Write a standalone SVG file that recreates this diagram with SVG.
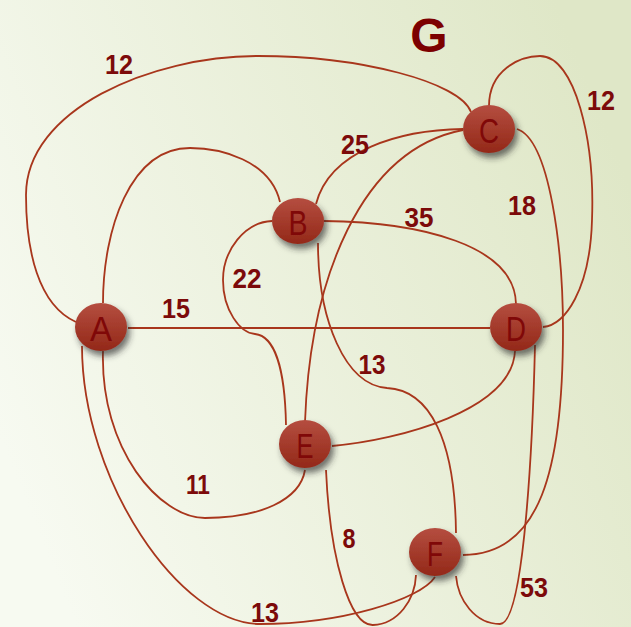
<svg xmlns="http://www.w3.org/2000/svg" width="631" height="627" viewBox="0 0 631 627">
<defs>
<linearGradient id="bg" x1="0" y1="0.7" x2="1" y2="0.3">
<stop offset="0" stop-color="#f7faf1"/>
<stop offset="1" stop-color="#dfe7c7"/>
</linearGradient>
<linearGradient id="nodeFill" x1="0" y1="0" x2="0" y2="1">
<stop offset="0" stop-color="#b54e40"/>
<stop offset="1" stop-color="#932818"/>
</linearGradient>
<filter id="shadow" x="-40%" y="-40%" width="190%" height="190%">
<feDropShadow dx="3" dy="5" stdDeviation="3" flood-color="#2a2a2a" flood-opacity="0.65"/>
</filter>
<style>
.edge{fill:none;stroke:#a8361c;stroke-width:1.8}
.node ellipse{fill:url(#nodeFill);filter:url(#shadow)}
.node text{font-family:"Liberation Sans",Arial,sans-serif;font-size:35px;fill:#800808;text-anchor:middle}
.lbl{font-family:"Liberation Sans",Arial,sans-serif;font-size:28px;font-weight:bold;fill:#7c0a0a;text-anchor:middle}
.title{font-family:"Liberation Sans",Arial,sans-serif;font-size:48px;font-weight:bold;fill:#7c0000;text-anchor:middle}
</style>
</defs>
<rect width="631" height="627" fill="url(#bg)"/>
<g id="edges">
<path class="edge" d="M76,322 C38,305 26,250 26,195 C26,110 150,56 258,56 C360,56 460,82 471,112"/>
<path class="edge" d="M489,106 C489,70 520,56 540,56 C575,56 595,140 592,220 C590,290 565,325 543,327"/>
<path class="edge" d="M463,129 C400,130 330,150 316,204"/>
<path class="edge" d="M463,130 C360,150 310,280 305,422"/>
<path class="edge" d="M517,129 C550,140 563,250 563,330 C563,470 540,555 463,555"/>
<path class="edge" d="M280,202 C270,160 220,148 190,148 C130,148 103,230 103,303"/>
<path class="edge" d="M272,221 C245,222 223,250 223,280 C223,310 240,333 255,334 C275,336 285,370 286,425"/>
<path class="edge" d="M324,221 C420,222 515,245 516,304"/>
<path class="edge" d="M318,243 C318,320 345,385 387,388 C430,390 455,440 456,533"/>
<path class="edge" d="M128,328 L490,328"/>
<path class="edge" d="M515,351 C512,410 400,440 332,446"/>
<path class="edge" d="M103,351 C100,450 160,518 205,518 C260,518 300,500 305,470"/>
<path class="edge" d="M82,346 C82,480 180,624 260,624 C340,624 420,600 435,577"/>
<path class="edge" d="M326,470 C330,560 350,626 373,625 C398,624 415,600 416,575"/>
<path class="edge" d="M535,345 C533,430 525,624 500,624 C475,624 458,600 456,576"/>
</g>
<g id="node-A" class="node"><ellipse cx="101" cy="327" rx="26" ry="24"/><text x="101" y="341" textLength="22" lengthAdjust="spacingAndGlyphs">A</text></g>
<g id="node-B" class="node"><ellipse cx="298" cy="221" rx="26" ry="23"/><text x="298" y="235" textLength="19" lengthAdjust="spacingAndGlyphs">B</text></g>
<g id="node-C" class="node"><ellipse cx="489" cy="129" rx="26" ry="24"/><text x="489" y="143" textLength="20" lengthAdjust="spacingAndGlyphs">C</text></g>
<g id="node-D" class="node"><ellipse cx="516" cy="327" rx="26" ry="24"/><text x="516" y="341" textLength="20" lengthAdjust="spacingAndGlyphs">D</text></g>
<g id="node-E" class="node"><ellipse cx="305" cy="444" rx="26" ry="24"/><text x="305" y="458" textLength="17" lengthAdjust="spacingAndGlyphs">E</text></g>
<g id="node-F" class="node"><ellipse cx="435" cy="552" rx="26" ry="24"/><text x="435" y="566" textLength="16" lengthAdjust="spacingAndGlyphs">F</text></g>
<g id="labels">
<text class="title" x="429" y="52">G</text>
<text class="lbl" x="119" y="74" textLength="28" lengthAdjust="spacingAndGlyphs">12</text>
<text class="lbl" x="601" y="110" textLength="28" lengthAdjust="spacingAndGlyphs">12</text>
<text class="lbl" x="355" y="154" textLength="28" lengthAdjust="spacingAndGlyphs">25</text>
<text class="lbl" x="522" y="215" textLength="28" lengthAdjust="spacingAndGlyphs">18</text>
<text class="lbl" x="419" y="227" textLength="29" lengthAdjust="spacingAndGlyphs">35</text>
<text class="lbl" x="247" y="288" textLength="29" lengthAdjust="spacingAndGlyphs">22</text>
<text class="lbl" x="176" y="318" textLength="28" lengthAdjust="spacingAndGlyphs">15</text>
<text class="lbl" x="372" y="374" textLength="27" lengthAdjust="spacingAndGlyphs">13</text>
<text class="lbl" x="198" y="494" textLength="24" lengthAdjust="spacingAndGlyphs">11</text>
<text class="lbl" x="349" y="548" textLength="13" lengthAdjust="spacingAndGlyphs">8</text>
<text class="lbl" x="534" y="597" textLength="28" lengthAdjust="spacingAndGlyphs">53</text>
<text class="lbl" x="265" y="622" textLength="28" lengthAdjust="spacingAndGlyphs">13</text>
</g>
</svg>
